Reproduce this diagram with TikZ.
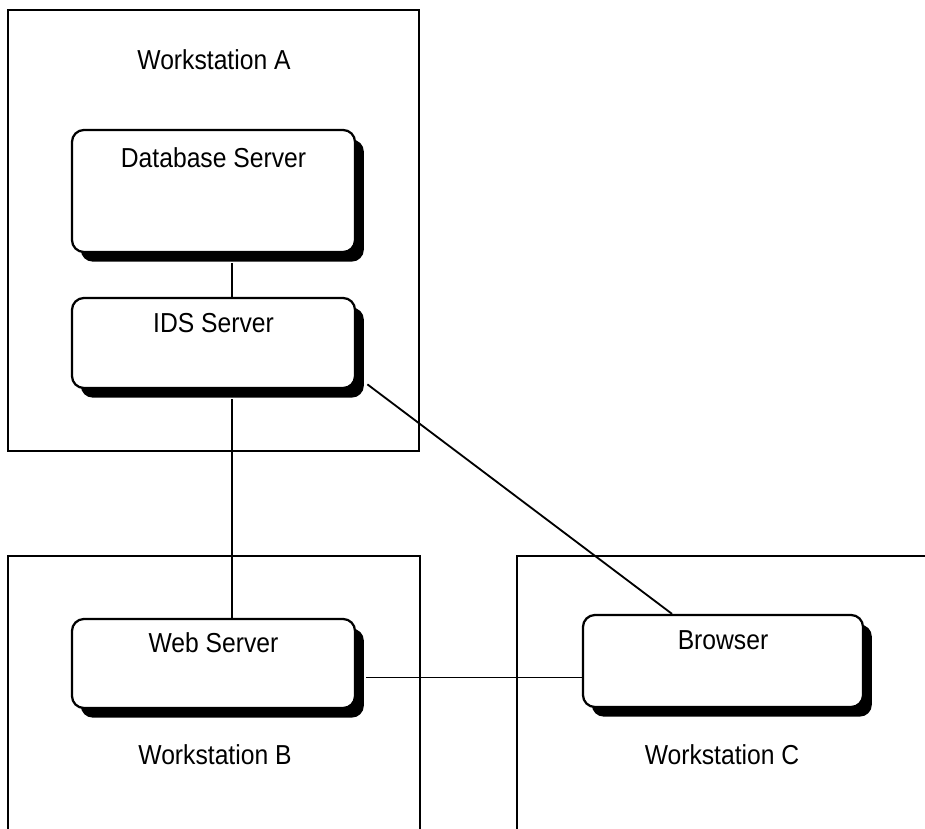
\documentclass[tikz,border=0pt]{standalone}
\usepackage{fontspec}
\setmainfont[FakeStretch=0.9]{Liberation Sans}
\usepackage{tikz}
\usetikzlibrary{shadows,positioning}
\tikzstyle{workstation} = [rectangle, draw=black, line width=1.6pt, inner sep=0pt]
\tikzstyle{server} = [rectangle, rounded corners=0.3cm, draw=black, fill=white, line width=1.6pt, inner sep=0pt, minimum width=7.075cm,
  drop shadow={shadow xshift=0.22cm, shadow yshift=-0.24cm, fill=black, opacity=1}]
\tikzstyle{title} = [font=\fontsize{19.5}{22}\selectfont, inner sep=0pt]
\tikzstyle{link} = [line width=1.3pt, color=black]

\begin{document}
\begin{tikzpicture}[x=0.025cm, y=-0.025cm]
\useasboundingbox[fill=white] (0,0) rectangle (925,828);
% Workstations
\node (wsA) [workstation, minimum width=10.275cm, minimum height=11.025cm] at (213.5,230.5) {};
\node (wsB) [workstation, minimum width=10.3cm, minimum height=7.1cm] at (214,698) {};
\node (wsC) [workstation, minimum width=10.575cm, minimum height=7.1cm] at (728.5,698) {};
\node (wsAtitle) [title] at (214,60) {Workstation A};
\node (wsBtitle) [title] at (215,755) {Workstation B};
\node (wsCtitle) [title] at (722,755) {Workstation C};

% Servers
\node (db) [server, minimum height=3.05cm, label={[title, yshift=-0.98cm]north:Database Server}] at (213.5,191) {};
\node (ids) [server, minimum height=2.25cm, label={[title, yshift=-0.9cm]north:IDS Server}] at (213.5,343) {};
\node (web) [server, minimum height=2.225cm, label={[title, yshift=-0.88cm]north:Web Server}] at (213.5,663.5) {};
\node (browser) [server, minimum width=7cm, minimum height=2.3cm, label={[title, yshift=-0.9cm]north:Browser}] at (723,661) {};

% Connections
\draw[link] ([xshift=0.46cm, yshift=-0.25cm]db.south) -- ([xshift=0.46cm]ids.north);
\draw[link] ([xshift=0.46cm, yshift=-0.25cm]ids.south) -- ([xshift=0.46cm]web.north);
\draw[link] ([xshift=0.28cm, yshift=0.12cm]ids.south east) -- ([xshift=-1.275cm]browser.north);
\draw[link] ([xshift=0.25cm, yshift=-0.35cm]web.east) -- ([yshift=-0.35cm]web.east -| browser.west);
\end{tikzpicture}
\end{document}
